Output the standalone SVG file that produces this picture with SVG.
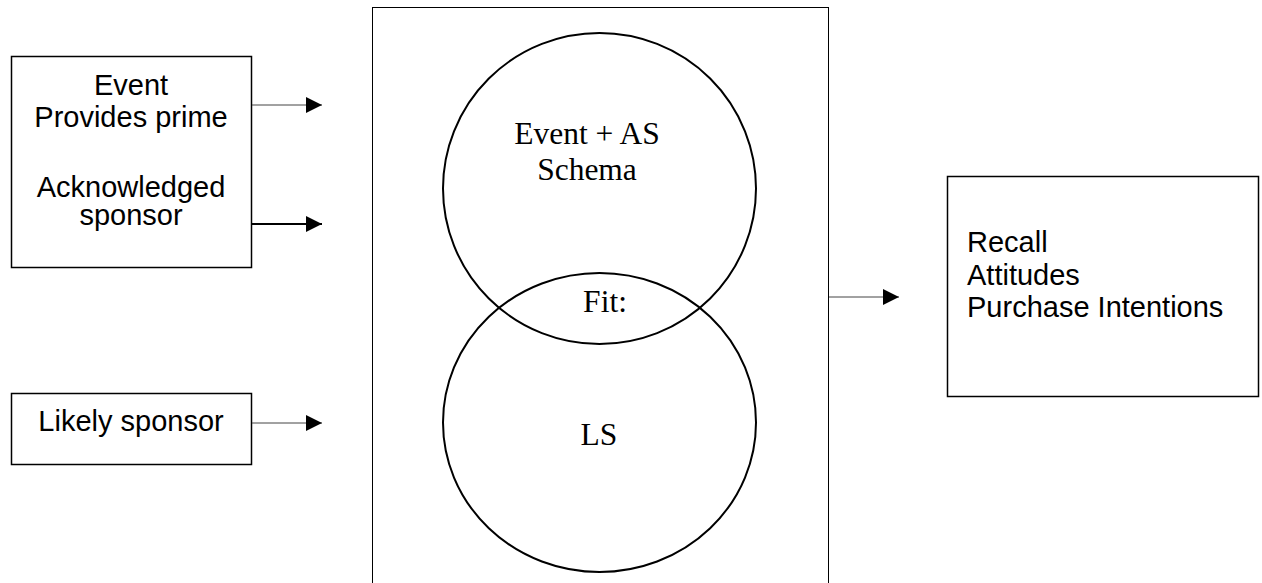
<svg xmlns="http://www.w3.org/2000/svg" width="1262" height="583" viewBox="0 0 1262 583">
<style>
.box{fill:#fff;stroke:#000;stroke-width:1.5}
.frame{fill:none;stroke:#000;stroke-width:1}
.ell{fill:none;stroke:#000;stroke-width:2}
.sans{font-family:"Liberation Sans",Arial,sans-serif;font-size:29px;fill:#000}
.serif{font-family:"Liberation Serif","Times New Roman",serif;font-size:31.5px;fill:#000}
.thin{stroke:#444;stroke-width:1;fill:none}
.thick{stroke:#000;stroke-width:2;fill:none}
</style>
<defs>
<marker id="ah" viewBox="0 0 16 16" refX="16" refY="8" markerWidth="16" markerHeight="16" markerUnits="userSpaceOnUse" orient="auto">
<path d="M0,0 L16,8 L0,16 Z" fill="#000"/>
</marker>
</defs>
<g id="event-box">
<rect class="box" x="11.5" y="56.5" width="240" height="211"/>
<text class="sans" text-anchor="middle" x="131" y="95">Event</text>
<text class="sans" text-anchor="middle" x="131" y="127">Provides prime</text>
<text class="sans" text-anchor="middle" x="131" y="197">Acknowledged</text>
<text class="sans" text-anchor="middle" x="131" y="225">sponsor</text>
</g>
<g id="likely-box">
<rect class="box" x="11.5" y="393.5" width="240" height="71"/>
<text class="sans" text-anchor="middle" x="131" y="431">Likely sponsor</text>
</g>
<g id="schema-frame">
<rect class="frame" x="372.5" y="7.5" width="456" height="600"/>
</g>
<g id="event-as-schema">
<ellipse class="ell" cx="599.5" cy="188.5" rx="156.5" ry="155.5"/>
<text class="serif" text-anchor="middle" x="587" y="144">Event + AS</text>
<text class="serif" text-anchor="middle" x="587" y="180">Schema</text>
</g>
<g id="ls">
<ellipse class="ell" cx="599.5" cy="422.5" rx="156.5" ry="149.5"/>
<text class="serif" text-anchor="middle" x="599" y="445">LS</text>
</g>
<g id="fit">
<text class="serif" text-anchor="middle" x="605" y="312">Fit:</text>
</g>
<g id="outcomes-box">
<rect class="box" x="947.5" y="176.5" width="311" height="220"/>
<text class="sans" x="967" y="252">Recall</text>
<text class="sans" x="967" y="285">Attitudes</text>
<text class="sans" x="967" y="317">Purchase Intentions</text>
</g>
<g id="connectors">
<line class="thin" x1="252" y1="105" x2="322" y2="105" marker-end="url(#ah)"/>
<line class="thick" x1="252" y1="224" x2="322" y2="224" marker-end="url(#ah)"/>
<line class="thin" x1="252" y1="423" x2="322" y2="423" marker-end="url(#ah)"/>
<line class="thin" x1="829" y1="297" x2="899" y2="297" marker-end="url(#ah)"/>
</g>
</svg>
